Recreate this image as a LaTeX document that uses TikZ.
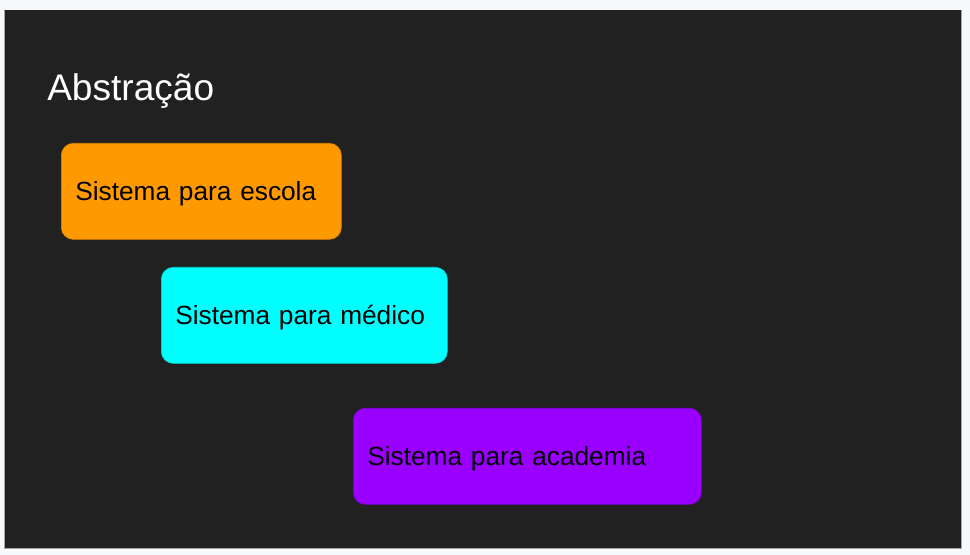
\documentclass[tikz,border=0pt]{standalone}
\usepackage{fontspec}
\setmainfont{Liberation Sans}
\definecolor{pagebg}{HTML}{F8F9FA}
\definecolor{slidebg}{HTML}{212121}
\definecolor{escolacol}{HTML}{FF9900}
\definecolor{medicocol}{HTML}{00FFFF}
\definecolor{academiacol}{HTML}{9900FF}

\begin{document}
\begin{tikzpicture}[x=0.75pt,y=-0.75pt,
  sysbox/.style={fill=#1, draw=#1!85!black, line width=0.5pt,
    rounded corners=9pt, anchor=north west, minimum height=72pt,
    inner xsep=10.5pt, align=left, text=black,
    text height=17.5pt, text depth=4.2pt,
    font=\fontsize{19.7}{23}\selectfont}]
  % page and slide
  \fill[pagebg] (0,0) rectangle (970,555);
  \draw[slidebg, fill=slidebg] (4,10) rectangle (961,548);
  \draw[gray!70, line width=0.6pt] (4,10) -- (4,548) -- (961,548) -- (961,10);
  % title
  \node[anchor=west, text=white, inner sep=0pt, font=\fontsize{27.8}{32}\selectfont]
    (titulo) at (47,91.5) {Abstração};
  % the three systems
  \node[sysbox=escolacol, text width=189pt] (escola) at (61,143) {Sistema para escola};
  \node[sysbox=medicocol, text width=193.5pt] (medico) at (161,267) {Sistema para médico};
  \node[sysbox=academiacol, text width=240pt] (academia) at (353,408) {Sistema para academia};
\end{tikzpicture}
\end{document}
